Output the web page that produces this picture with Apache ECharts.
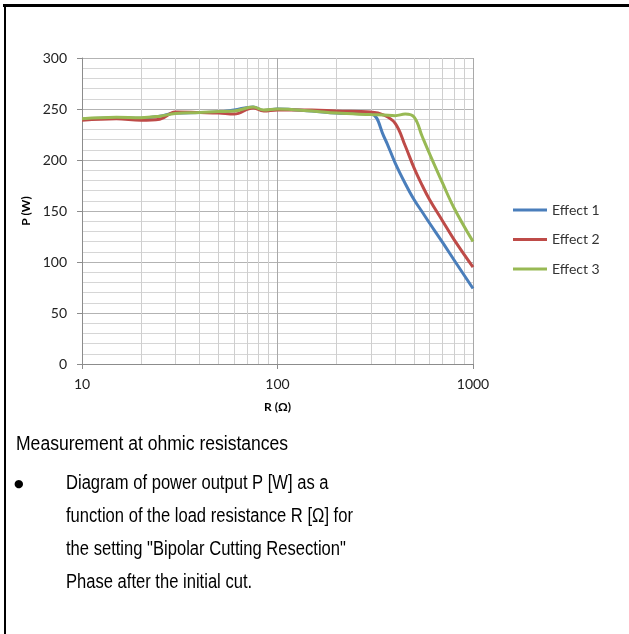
<!DOCTYPE html>
<html><head><meta charset="utf-8">
<script src="https://cdn.jsdelivr.net/npm/echarts@6/dist/echarts.min.js"></script>
<style>html,body{margin:0;padding:0;background:#fff}#c{width:629px;height:634px}</style>
</head><body><div id="c"></div>
<script>
const resistance = [10, 15, 20, 25, 30, 40, 50, 60, 75, 85, 100, 150, 200, 300, 350, 400, 450, 500, 550, 600, 700, 800, 1000];
const effect1 = [240, 241.5, 241, 243, 246, 246.5, 247, 249, 252, 248.5, 250, 248, 246, 245, 223, 197, 177, 161, 149, 138, 119, 102, 74];
const effect2 = [239, 240.5, 239, 240, 247, 246.5, 246, 245, 251, 248, 249, 249, 248, 247, 244, 236, 214, 192, 175, 161, 140, 122, 95];
const effect3 = [240.5, 242, 241.5, 243, 245.5, 246.5, 247.5, 248, 252, 249, 250, 248, 246, 244.5, 244, 243.5, 245, 242, 223, 206, 177, 153, 120];
const seriesNames = ['Effect 1', 'Effect 2', 'Effect 3'];
const minorR = [20, 30, 40, 50, 60, 70, 80, 90, 200, 300, 400, 500, 600, 700, 800, 900];
const yTicks = {min: 0, max: 300, step: 50};
const xRange = {min: 10, max: 1000};
const captionLines = ['Diagram of power output P [W] as a', 'function of the load resistance R [Ω] for', 'the setting "Bipolar Cutting Resection"', 'Phase after the initial cut.'];

const colors = ['#4A7EBB', '#BE4B48', '#98B954'];
const values = [effect1, effect2, effect3];
const chart = echarts.init(document.getElementById('c'), null, {renderer: 'canvas'});
const font = 'Lato, "Open Sans", sans-serif';
const capFont = '19.5px "Liberation Sans", Arial, sans-serif';

const series = values.map((v, i) => ({
  name: seriesNames[i], type: 'line', smooth: 0.4, showSymbol: false, z: 5,
  data: resistance.map((r, k) => [r, v[k]]),
  lineStyle: {color: colors[i], width: 3}, itemStyle: {color: colors[i]}
}));
series.unshift({
  name: 'minor', type: 'line', data: [], z: 1, silent: true,
  markLine: {silent: true, symbol: 'none', label: {show: false}, animation: false,
    lineStyle: {color: '#cfcfcf', type: 'solid', width: 1},
    data: minorR.map(r => ({xAxis: r}))}
});

const graphics = [
  {type: 'rect', shape: {x: 3, y: 4, width: 626, height: 3}, style: {fill: '#000'}},
  {type: 'rect', shape: {x: 4, y: 4, width: 2, height: 630}, style: {fill: '#000'}},
  {type: 'text', x: 16, y: 445, scaleX: 0.9, style: {text: 'Measurement at ohmic resistances', font: capFont, fill: '#000', verticalAlign: 'middle'}},
  {type: 'text', x: 14, y: 484, style: {text: '●', font: '11px "DejaVu Sans", sans-serif', fill: '#000', verticalAlign: 'middle'}}
];
captionLines.forEach((t, i) => graphics.push({
  type: 'text', x: 66, y: 484 + i * 33, scaleX: 0.85,
  style: {text: t, font: capFont, fill: '#000', verticalAlign: 'middle'}
}));

chart.setOption({
  animation: false,
  backgroundColor: '#fff',
  grid: {left: 82, top: 58, width: 391, height: 306, containLabel: false},
  xAxis: {
    type: 'log', logBase: 10, min: xRange.min, max: xRange.max,
    name: 'R (Ω)', nameLocation: 'middle', nameGap: 37,
    nameTextStyle: {fontFamily: font, fontWeight: 'bold', fontSize: 12, color: '#000'},
    axisLine: {show: true, lineStyle: {color: '#8c8c8c', width: 1}},
    axisTick: {show: true, length: 5, lineStyle: {color: '#8c8c8c'}},
    axisLabel: {fontFamily: font, fontSize: 14, color: '#222', margin: 13, formatter: v => String(Math.round(v))},
    splitLine: {show: true, lineStyle: {color: '#a9a9a9', width: 1}}
  },
  yAxis: {
    type: 'value', min: yTicks.min, max: yTicks.max, interval: yTicks.step,
    name: 'P (W)', nameLocation: 'middle', nameGap: 42, nameRotate: 90,
    nameTextStyle: {fontFamily: font, fontWeight: 'bold', fontSize: 12, color: '#000'},
    axisLine: {show: true, lineStyle: {color: '#8c8c8c', width: 1}},
    axisTick: {show: true, length: 5, inside: false, lineStyle: {color: '#8c8c8c'}},
    axisLabel: {fontFamily: font, fontSize: 14, color: '#222', margin: 15},
    splitLine: {show: true, lineStyle: {color: '#b3b3b3', width: 1}},
    minorTick: {show: false, splitNumber: 5},
    minorSplitLine: {show: true, lineStyle: {color: '#d6d6d6', width: 1}}
  },
  legend: {
    data: seriesNames, orient: 'vertical', left: 508, top: 198,
    icon: 'rect', itemWidth: 34, itemHeight: 3, itemGap: 15.5,
    textStyle: {fontFamily: font, fontSize: 14, color: '#333', lineHeight: 14}
  },
  series: series,
  graphic: graphics
});
</script></body></html>
